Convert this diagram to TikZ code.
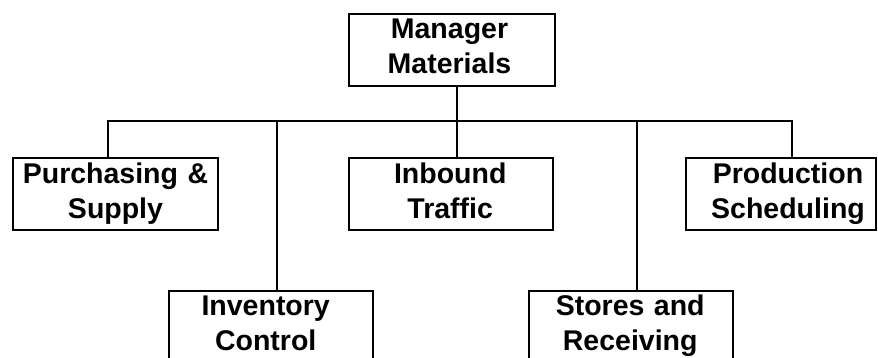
\documentclass[tikz,border=0pt]{standalone}
\usepackage{fontspec}
\setmainfont{Liberation Sans}
\tikzset{
    % empty boxes of the chart, their names hung from the first baseline
    unitbox/.style={draw,line width=2pt,rectangle,inner sep=0pt,
                    minimum width=204pt,minimum height=71.5pt},
    unitname/.style={anchor=base,align=center,inner sep=0pt,text width=200pt,
                     font=\fontsize{28.5}{35}\selectfont\bfseries},
    tree/.style={line width=2pt}
}
\begin{document}
\begin{tikzpicture}[x=1pt,y=1pt]
  \useasboundingbox (0,0) rectangle (878,358);
  \clip (0,0) rectangle (878,358);

  \node[unitbox,minimum width=206pt,minimum height=72.3pt] (mgr) at (451.5,308.2) {};

  \node[unitbox,minimum width=204.5pt] (pur) at (115.5,164) {};
  \node[unitbox] (inb) at (451.2,164) {};
  \node[unitbox,minimum width=190pt] (prd) at (780.5,164) {};

  \node[unitbox,minimum height=72pt] (inv) at (271.2,31) {};
  \node[unitbox,minimum height=72pt] (sto) at (631.2,31) {};

  \node[unitname] (mgr-t) at ([xshift=-2pt,yshift=-26pt]mgr.north) {Manager\\Materials};
  \node[unitname] (pur-t) at ([yshift=-26pt]pur.north) {Purchasing \&\\Supply};
  \node[unitname] (inb-t) at ([xshift=-1pt,yshift=-26pt]inb.north) {Inbound\\Traffic};
  \node[unitname] (prd-t) at ([xshift=7.5pt,yshift=-26pt]prd.north) {Production\\Scheduling};
  \node[unitname] (inv-t) at ([xshift=-5.5pt,yshift=-26pt]inv.north) {Inventory\\Control};
  \node[unitname] (sto-t) at ([xshift=-1pt,yshift=-26pt]sto.north) {Stores and\\Receiving};

  \coordinate (bus) at (456.7,236.5);

  \draw[tree] ([xshift=5.2pt]mgr.south) -- ([xshift=5.5pt]inb.north);
  \draw[tree] ([xshift=-7.5pt]pur.north) |- (bus) -| ([xshift=11.5pt]prd.north);
  \draw[tree] ([xshift=5.5pt]inv.north) -- ([xshift=5.5pt]inv.north |- bus);
  \draw[tree] ([xshift=5.5pt]sto.north) -- ([xshift=5.5pt]sto.north |- bus);

\end{tikzpicture}
\end{document}
